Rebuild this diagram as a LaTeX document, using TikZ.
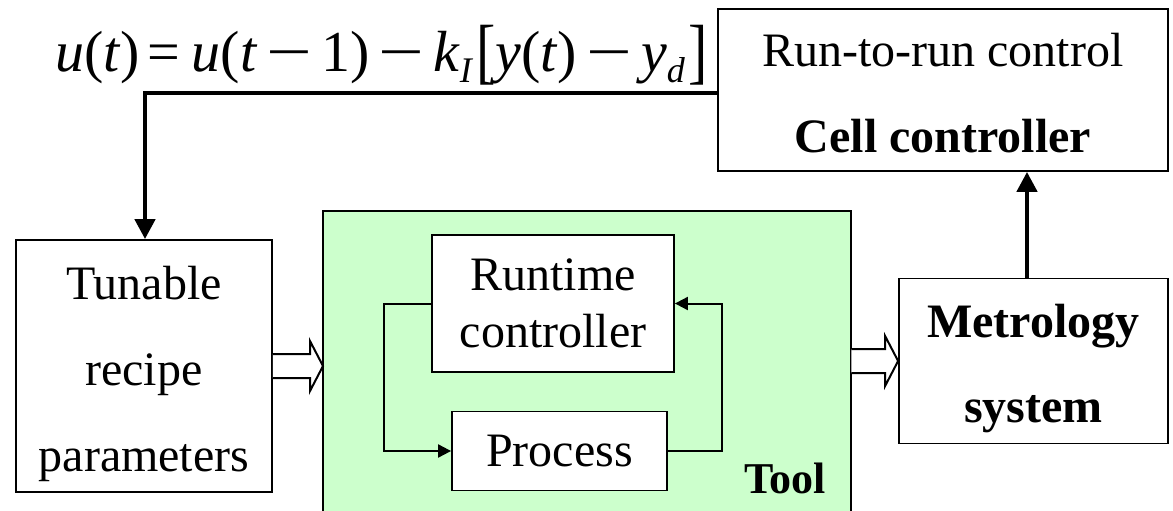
\documentclass[tikz,border=0pt]{standalone}
\usepackage{fontspec}
\setmainfont{Liberation Serif}
\usetikzlibrary{arrows.meta,calc}
\definecolor{toolgreen}{HTML}{CCFFCC}
\tikzset{
  box/.style={draw=black,line width=1.8pt,fill=white,align=center,inner sep=0pt,
              font=\fontsize{48}{86}\selectfont},
  thick arrow/.style={line width=4.5pt,-{Triangle[length=20pt,width=20pt]}},
  thin arrow/.style={line width=2pt,-{Triangle[length=13pt,width=13pt]}},
  hollow/.style={draw=black,line width=2pt,fill=white,line join=miter},
}
% top strut that lowers a multi-line node text a little
\newcommand{\lowertext}[1]{\rule{0pt}{#1}}
\newcommand{\opminus}{\hspace{9pt}\scalebox{1.4}[1]{−}\hspace{9pt}}
\newcommand{\lowsub}[1]{\raisebox{-11pt}{\fontsize{36}{36}\selectfont\textit{#1}}}
\newcommand{\tallbr}[1]{\raisebox{-3pt}{\scalebox{1}[1.25]{#1}}}
\newcommand{\hollowarrow}[2]{%
  \draw[hollow] let \p1=(#1), \p2=(#2) in
    (\x1,\y1+12pt) -- (\x2-13pt,\y1+12pt) -- (\x2-13pt,\y1+25pt) -- (\x2,\y1)
    -- (\x2-13pt,\y1-25pt) -- (\x2-13pt,\y1-12pt) -- (\x1,\y1-12pt);}
\begin{document}
\begin{tikzpicture}[x=1pt,y=-1pt]
\useasboundingbox (0,0) rectangle (1173,511);

% tool area (open at the bottom)
\node[fill=toolgreen,minimum width=528pt,minimum height=300pt,inner sep=0pt,anchor=north west]
  (tool) at (323,211) {};
\draw[line width=2pt] (tool.south west) -- (tool.north west) -- (tool.north east) -- (tool.south east);
\node[font=\fontsize{44}{44}\selectfont\bfseries,anchor=center] (toollabel) at (785,478) {Tool};

% boxes
\node[box,minimum width=450pt,minimum height=162pt] (cell) at (943,90)
  {\lowertext{40pt}Run-to-run control\\\textbf{Cell controller}};
\node[box,minimum width=256pt,minimum height=252pt] (tun) at (144,366)
  {\lowertext{49pt}Tunable\\recipe\\parameters};
\node[box,minimum width=269pt,minimum height=165pt,font=\fontsize{48}{85}\selectfont\bfseries]
  (metro) at (1033.5,361) {\lowertext{48pt}Metrology\\system};
\node[box,minimum width=242pt,minimum height=137pt,font=\fontsize{48}{57}\selectfont]
  (rtc) at (553,303.5) {Runtime\\controller};
\node[box,minimum width=215pt,minimum height=79pt] (proc) at (559.5,451) {Process};

% control law
\node[font=\fontsize{58}{58}\selectfont,anchor=base west,inner sep=0pt] (law) at (55,72)
  {\textit{u}(\textit{t})\hspace{7pt}=\hspace{12pt}\textit{u}(\textit{t}\opminus 1)\opminus\textit{k}\lowsub{I}\hspace{3pt}\tallbr{[}\textit{y}(\textit{t})\opminus\textit{y}\lowsub{d}\hspace{4pt}\tallbr{]}};

% connectors
\coordinate (bend) at (145,93);
\draw[thick arrow] (cell.west |- bend) -- (bend) -- (bend |- tun.north);
\draw[thick arrow] (metro.north -| 1027,0) -- (cell.south -| 1027,0);
\coordinate (lx) at (384,0);
\coordinate (rx) at (722,0);
\draw[thin arrow] (rtc.west) -- (lx |- rtc.west) -- (lx |- proc.west) -- (proc.west);
\draw[thin arrow] (proc.east) -- (rx |- proc.east) -- (rx |- rtc.east) -- (rtc.east);

\hollowarrow{tun.east}{tool.west |- tun.east}
\hollowarrow{tool.east |- metro.west}{metro.west}
\end{tikzpicture}
\end{document}
